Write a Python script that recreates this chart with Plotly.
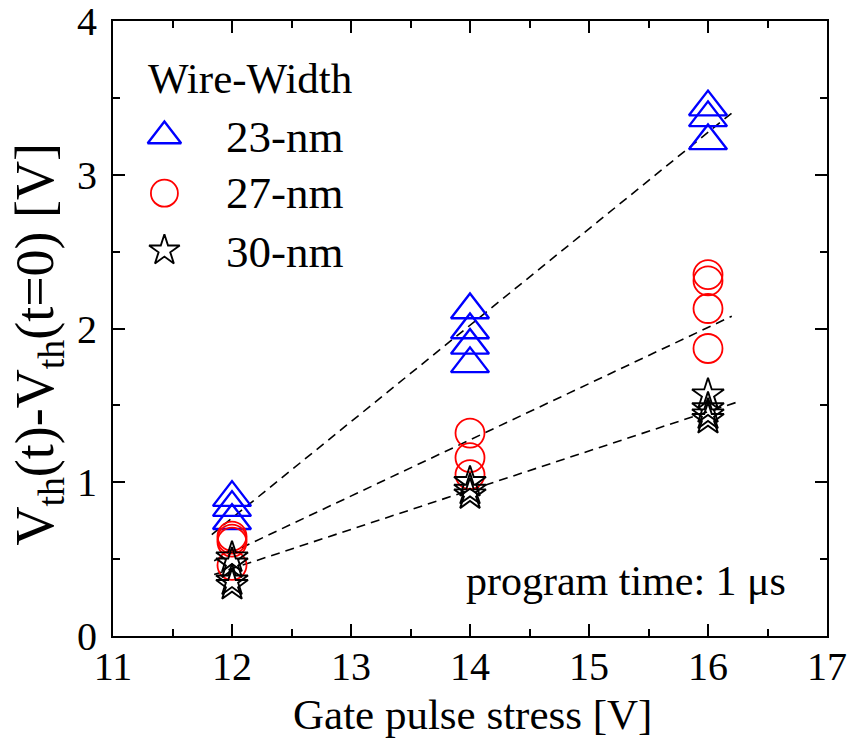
import plotly.graph_objects as go

# Threshold-voltage shift versus gate pulse stress, three nanowire widths
series_names = ["23-nm", "27-nm", "30-nm"]

x_23 = [12, 12, 12, 14, 14, 14, 14, 16, 16, 16]
y_23 = [0.90, 0.835, 0.75, 2.12, 1.99, 1.89, 1.77, 3.44, 3.37, 3.22]

x_27 = [12, 12, 12, 12, 14, 14, 14, 16, 16, 16, 16]
y_27 = [0.65, 0.63, 0.61, 0.46, 1.32, 1.16, 1.05, 2.35, 2.31, 2.13, 1.87]

x_30 = [12, 12, 12, 12, 14, 14, 14, 16, 16, 16, 16]
y_30 = [0.51, 0.47, 0.36, 0.33, 1.00, 0.95, 0.92, 1.57, 1.48, 1.44, 1.41]

# Linear fits (end points of each dashed line)
fit_x_23 = [11.83, 16.23]
fit_y_23 = [0.66, 3.42]
fit_x_27 = [11.85, 16.20]
fit_y_27 = [0.49, 2.08]
fit_x_30 = [11.85, 16.24]
fit_y_30 = [0.40, 1.52]

x_ticks = [11, 12, 13, 14, 15, 16, 17]
y_ticks = [0, 1, 2, 3, 4]

FONT = "Liberation Serif, Times New Roman, serif"
BLUE = "#0000ff"
RED = "#ff0000"
BLACK = "#000000"

styles = [
    dict(symbol="triangle-up-open", size=33, color=BLUE, width=2.4),
    dict(symbol="circle-open", size=29, color=RED, width=1.8),
    dict(symbol="star-open", size=24, color=BLACK, width=1.9),
]

fig = go.Figure()

dash = "9px,6px"
for fx, fy in [(fit_x_23, fit_y_23), (fit_x_27, fit_y_27), (fit_x_30, fit_y_30)]:
    fig.add_trace(go.Scatter(
        x=fx, y=fy, mode="lines",
        line=dict(color=BLACK, width=1.6, dash=dash),
        showlegend=False, hoverinfo="skip",
    ))

for name, xs, ys, st in zip(series_names, [x_23, x_27, x_30], [y_23, y_27, y_30], styles):
    fig.add_trace(go.Scatter(
        x=xs, y=ys, mode="markers", name=name, showlegend=False,
        marker=dict(symbol=st["symbol"], size=st["size"], color=st["color"],
                    line=dict(color=st["color"], width=st["width"])),
    ))

# Legend key drawn on a hidden overlay axis spanning the plot area (0..1)
key_x = 0.072
key_y = [0.813, 0.720, 0.627]
key_sizes = [29, 27, 23]
for i, (name, st) in enumerate(zip(series_names, styles)):
    fig.add_trace(go.Scatter(
        x=[key_x], y=[key_y[i]], mode="markers", xaxis="x2", yaxis="y2",
        showlegend=False, hoverinfo="skip",
        marker=dict(symbol=st["symbol"], size=key_sizes[i], color=st["color"],
                    line=dict(color=st["color"], width=st["width"])),
    ))

annotations = [
    dict(text="Wire-Width", x=0.046, y=0.907, xanchor="left", yanchor="middle",
         font_size=43),
]
for i, name in enumerate(series_names):
    annotations.append(dict(text=name, x=0.155, y=[0.8115, 0.72, 0.6246][i],
                            xanchor="left", yanchor="middle", font_size=45))
annotations.append(dict(text="program time: 1 \u03bcs", x=0.718, y=0.090,
                        xanchor="center", yanchor="middle", font_size=42))
annotations.append(dict(text="Gate pulse stress [V]", x=0.503, y=-0.128,
                        xanchor="center", yanchor="middle", font_size=43))
annotations.append(dict(text="V<sub>th</sub>(t)-V<sub>th</sub>(t=0) [V]",
                        x=-0.104, y=0.475, textangle=-90,
                        xanchor="center", yanchor="middle", font_size=54))
for a in annotations:
    size = a.pop("font_size")
    a.update(xref="paper", yref="paper", showarrow=False,
             font=dict(family=FONT, size=size, color=BLACK))

axis_common = dict(
    showline=True, linewidth=2, linecolor=BLACK, mirror="ticks",
    ticks="inside", ticklen=12, tickwidth=2, tickcolor=BLACK,
    showgrid=False, zeroline=False, ticklabeloverflow="allow",
    automargin=False,
    tickfont=dict(family=FONT, size=40, color=BLACK),
)

fig.update_layout(
    width=848, height=744,
    margin=dict(l=113, r=21, t=21, b=108),
    paper_bgcolor="white", plot_bgcolor="white",
    showlegend=False,
    xaxis=dict(range=[11, 17], tickvals=x_ticks, ticktext=[str(v) for v in x_ticks],
               minor=dict(dtick=0.5, ticks="inside", ticklen=7, tickwidth=2,
                          tickcolor=BLACK, showgrid=False),
               ticklabelstandoff=-6, **axis_common),
    yaxis=dict(range=[0, 4], tickvals=y_ticks, ticktext=[str(v) for v in y_ticks],
               minor=dict(dtick=0.5, ticks="inside", ticklen=7, tickwidth=2,
                          tickcolor=BLACK, showgrid=False),
               ticklabelstandoff=6, **axis_common),
    xaxis2=dict(range=[0, 1], overlaying="x", visible=False),
    yaxis2=dict(range=[0, 1], overlaying="y", visible=False),
    annotations=annotations,
)

fig.write_html("out.html")
